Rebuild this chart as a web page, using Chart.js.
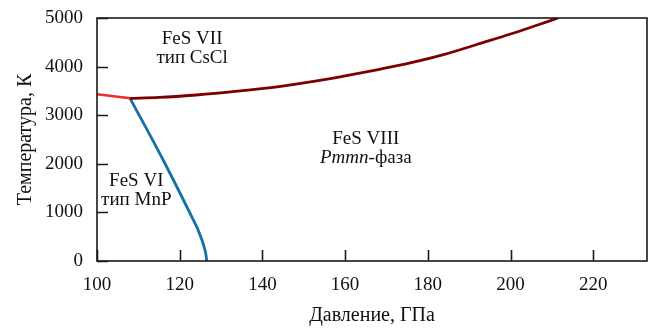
<!DOCTYPE html>
<html>
<head>
<meta charset="utf-8">
<script src="https://cdn.jsdelivr.net/npm/chart.js@4/dist/chart.umd.min.js"></script>
<style>
html,body{margin:0;padding:0;background:#fff;}
#wrap{width:653px;height:328px;}
</style>
</head>
<body>
<div id="wrap"><canvas id="c" width="653" height="328"></canvas></div>
<script>
// Boundary FeS VI / FeS VII (red)
const redP = [100, 108];
const redT = [3430, 3348];
// Boundary FeS VII / FeS VIII (dark red)
const darkP = [108, 115, 124, 134, 144, 152, 160, 168, 176, 184, 192, 200, 206, 211.5];
const darkT = [3348, 3365, 3416, 3495, 3590, 3690, 3810, 3940, 4080, 4250, 4460, 4670, 4840, 5000];
// Boundary FeS VI / FeS VIII (blue)
const blueP = [108, 116, 124.1, 124.8, 125.5, 126.1, 126.4, 126.5];
const blueT = [3348, 2078, 706, 560, 400, 230, 100, 0];

const xTicks = [100, 120, 140, 160, 180, 200, 220];
const yTicks = [0, 1000, 2000, 3000, 4000, 5000];

const labels = [
  {x: 123, y: 4560, lines: ['FeS VII', 'тип CsCl']},
  {x: 165, y: 2500, lines: ['FeS VIII', 'Pmmn-фаза']},
  {x: 109.5, y: 1640, lines: ['FeS VI', 'тип MnP']}
];

const FONT = '"Liberation Serif", "Times New Roman", serif';

function pts(P, T) { return P.map((p, i) => ({x: p, y: T[i]})); }

const framePlugin = {
  id: 'frame',
  afterDraw(chart) {
    const {ctx, chartArea: a, scales: {x, y}} = chart;
    ctx.save();
    ctx.strokeStyle = '#1a1a1a';
    ctx.lineWidth = 1.6;
    ctx.strokeRect(a.left, a.top, a.right - a.left, a.bottom - a.top);
    ctx.beginPath();
    xTicks.forEach(v => {
      const px = Math.round(x.getPixelForValue(v)) + 0.5;
      ctx.moveTo(px, a.bottom);
      ctx.lineTo(px, a.bottom - 11);
    });
    yTicks.forEach(v => {
      const py = Math.round(y.getPixelForValue(v)) + 0.5;
      ctx.moveTo(a.left, py);
      ctx.lineTo(a.left + 11, py);
    });
    ctx.stroke();
    // region labels
    ctx.fillStyle = '#111';
    ctx.textAlign = 'center';
    ctx.textBaseline = 'middle';
    labels.forEach(l => {
      const cx = x.getPixelForValue(l.x);
      const cy = y.getPixelForValue(l.y);
      l.lines.forEach((t, i) => {
        const yy = cy + i * 18.5;
        if (t.startsWith('Pmmn')) {
          ctx.font = 'italic 19px ' + FONT;
          const w1 = ctx.measureText('Pmmn').width;
          ctx.font = '19px ' + FONT;
          const w2 = ctx.measureText('-фаза').width;
          const start = cx - (w1 + w2) / 2;
          ctx.textAlign = 'left';
          ctx.font = 'italic 19px ' + FONT;
          ctx.fillText('Pmmn', start, yy);
          ctx.font = '19px ' + FONT;
          ctx.fillText('-фаза', start + w1, yy);
          ctx.textAlign = 'center';
        } else {
          ctx.font = '19px ' + FONT;
          ctx.fillText(t, cx, yy);
        }
      });
    });
    ctx.restore();
  }
};

new Chart(document.getElementById('c'), {
  type: 'scatter',
  data: {
    datasets: [
      {data: pts(redP, redT), showLine: true, borderColor: '#ee2a2a', borderWidth: 2.5, pointRadius: 0, tension: 0},
      {data: pts(darkP, darkT), showLine: true, borderColor: '#7d0000', borderWidth: 2.8, pointRadius: 0, cubicInterpolationMode: 'monotone'},
      {data: pts(blueP, blueT), showLine: true, borderColor: '#1570a6', borderWidth: 2.8, pointRadius: 0, tension: 0.35}
    ]
  },
  options: {
    responsive: false,
    animation: false,
    events: [],
    layout: {padding: {top: 18, right: 6, left: 0, bottom: 0}},
    plugins: {legend: {display: false}, tooltip: {enabled: false}},
    scales: {
      x: {
        type: 'linear', min: 100, max: 233,
        afterFit(s) { s.height = 67; },
        afterBuildTicks(s) { s.ticks = xTicks.map(v => ({value: v})); },
        grid: {display: false}, border: {display: false},
        ticks: {color: '#111', font: {family: FONT, size: 19}, padding: 5, maxRotation: 0,
                callback: v => String(v)},
        title: {display: true, text: 'Давление, ГПа', color: '#111', font: {family: FONT, size: 20}, padding: 0}
      },
      y: {
        type: 'linear', min: 0, max: 5000,
        afterFit(s) { s.width = 97; },
        afterBuildTicks(s) { s.ticks = yTicks.map(v => ({value: v})); },
        grid: {display: false}, border: {display: false},
        ticks: {color: '#111', font: {family: FONT, size: 19}, padding: 6,
                callback: v => String(v)},
        title: {display: true, text: 'Температура, К', color: '#111', font: {family: FONT, size: 20}, padding: {top: 14, bottom: 0}}
      }
    }
  },
  plugins: [framePlugin]
});
</script>
</body>
</html>
